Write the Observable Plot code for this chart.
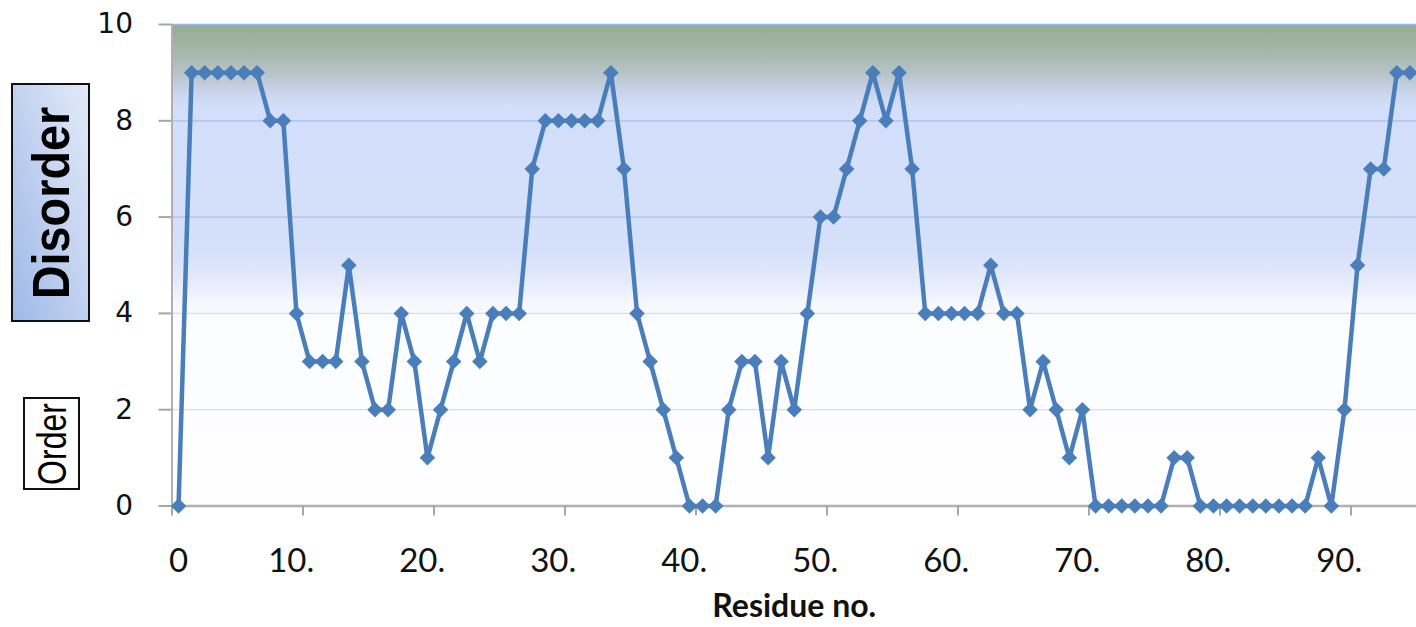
<!DOCTYPE html>
<html>
<head>
<meta charset="utf-8">
<script src="https://cdn.jsdelivr.net/npm/d3@7"></script>
<script src="https://cdn.jsdelivr.net/npm/@observablehq/plot@0.6"></script>
<style>
  html, body { margin: 0; padding: 0; background: #fff; }
  #wrap { position: relative; width: 1416px; height: 627px; overflow: hidden; }
  .box { position: absolute; box-sizing: border-box; border: 2px solid #111; }
  .box span { position: absolute; left: 50%; top: 50%; white-space: nowrap; color: #000; font-family: "Liberation Sans", Arial, sans-serif; }
  #disorder { left: 11px; top: 83px; width: 79px; height: 239px; background: linear-gradient(to top right, #9fb9e8, #e3eaf8); }
  #disorder span { font-weight: bold; font-size: 52px; transform: translate(-50%, -50%) rotate(-90deg) scaleX(0.9); }
  #order { left: 23px; top: 397px; width: 57px; height: 93px; background: #fff; }
  #order span { font-size: 40px; transform: translate(-50%, -50%) rotate(-90deg) scaleX(0.8); }
</style>
</head>
<body>
<div id="wrap">
  <div id="chart"></div>
  <div class="box" id="disorder"><span>Disorder</span></div>
  <div class="box" id="order"><span>Order</span></div>
</div>
<script>
// Disorder score per residue (category index 0..94)
const disorderScores = [
  0, 9, 9, 9, 9, 9, 9, 8, 8, 4,
  3, 3, 3, 5, 3, 2, 2, 4, 3, 1,
  2, 3, 4, 3, 4, 4, 4, 7, 8, 8,
  8, 8, 8, 9, 7, 4, 3, 2, 1, 0,
  0, 0, 2, 3, 3, 1, 3, 2, 4, 6,
  6, 7, 8, 9, 8, 9, 7, 4, 4, 4,
  4, 4, 5, 4, 4, 2, 3, 2, 1, 2,
  0, 0, 0, 0, 0, 0, 1, 1, 0, 0,
  0, 0, 0, 0, 0, 0, 0, 1, 0, 2,
  5, 7, 7, 9, 9
];
const yTicks = [0, 2, 4, 6, 8, 10];
const gridUpper = [6, 8];
const gridLower = [2, 4];
const xTickBoundaries = [-0.5, 9.5, 19.5, 29.5, 39.5, 49.5, 59.5, 69.5, 79.5, 89.5];
const xLabelPositions = [0, 8.6, 18.6, 28.6, 38.6, 48.6, 58.6, 68.6, 78.6, 88.6];
const xLabels = ["0", "10.", "20.", "30.", "40.", "50.", "60.", "70.", "80.", "90."];
const xTitle = "Residue no.";

const data = disorderScores.map((v, i) => ({residue: i, score: v}));

const plot = Plot.plot({
  width: 1416,
  height: 627,
  marginLeft: 171.5,
  marginRight: 0,
  marginTop: 24,
  marginBottom: 121.5,
  x: {domain: [-0.5, 94.5], axis: null, label: null},
  y: {domain: [0, 10], axis: null, label: null},
  style: {background: "transparent", overflow: "visible"},
  marks: [
    Plot.frame({fill: "url(#bgGrad)", stroke: null}),
    Plot.ruleY(gridUpper, {stroke: "#a9c1ea", strokeWidth: 1.2}),
    Plot.ruleY(gridLower, {stroke: "#d4ddf1", strokeWidth: 1.2}),
    Plot.ruleY([10], {stroke: "#9ab8ec", strokeWidth: 1.5}),
    Plot.ruleX([-0.5], {stroke: "#b0b0b0", strokeWidth: 2}),
    Plot.ruleY([0], {stroke: "#b0b0b0", strokeWidth: 2.5}),
    Plot.axisY({ticks: yTicks, tickSize: 13, tickPadding: 26, stroke: "#a6a6a6", strokeWidth: 2, label: null,
      fill: "#111", fontSize: 28, fontFamily: "DejaVu Sans, sans-serif", tickFormat: d => String(d)}),
    Plot.axisX({ticks: xTickBoundaries, tickSize: 10, stroke: "#a6a6a6", strokeWidth: 2, tickFormat: () => "", label: null}),
    Plot.axisX({ticks: xLabelPositions, tickSize: 0, tickPadding: 43, fill: "#111", fontSize: 33,
      fontFamily: "Lato, sans-serif", tickFormat: (d, i) => xLabels[i], label: null}),
    Plot.text([xTitle], {frameAnchor: "bottom", lineAnchor: "bottom", dy: 111, fontSize: 32,
      fontWeight: "bold", fontFamily: "Lato, sans-serif", fill: "#111", text: d => d}),
    Plot.line(data, {x: "residue", y: "score", stroke: "#4a7ebb", strokeWidth: 4.5, strokeLinejoin: "round"}),
    Plot.dot(data, {x: "residue", y: "score", symbol: "diamond2", r: 7, fill: "#4a7ebb", stroke: null})
  ]
});

const defs = d3.select(plot).insert("defs", ":first-child");
const g = defs.append("linearGradient").attr("id", "bgGrad")
  .attr("x1", 0).attr("y1", 0).attr("x2", 0).attr("y2", 1);
[
  [0.00, "#96ac92"],
  [0.05, "#a3b5a6"],
  [0.10, "#b6c3c6"],
  [0.14, "#c9d4ec"],
  [0.17, "#d3defa"],
  [0.47, "#d5e0fa"],
  [0.53, "#e4eafc"],
  [0.58, "#f6f8fe"],
  [0.62, "#fcfdff"],
  [1.00, "#fefeff"]
].forEach(([o, c]) => g.append("stop").attr("offset", o).attr("stop-color", c));

document.getElementById("chart").appendChild(plot);
</script>
</body>
</html>
